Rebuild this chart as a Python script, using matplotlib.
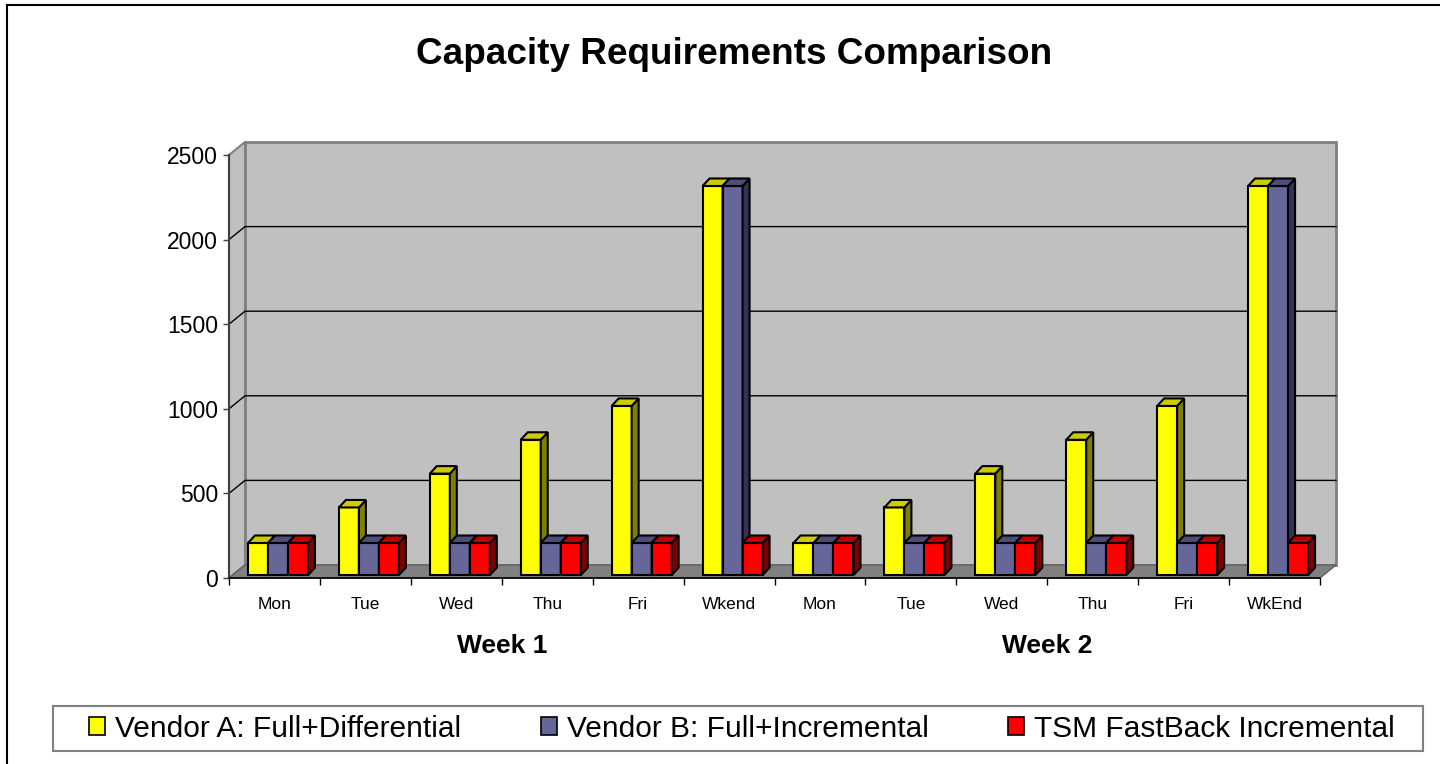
import matplotlib.pyplot as plt
from matplotlib.patches import Patch, Polygon, Rectangle
from matplotlib.lines import Line2D
import numpy as np

plt.rcParams['font.family'] = ['Liberation Sans', 'DejaVu Sans']

# data
days = ["Mon", "Tue", "Wed", "Thu", "Fri", "Wkend", "Mon", "Tue", "Wed", "Thu", "Fri", "WkEnd"]
weeks = ["Week 1", "Week 2"]
vendor_a = [190, 400, 600, 800, 1000, 2300, 190, 400, 600, 800, 1000, 2300]
vendor_b = [190, 190, 190, 190, 190, 2300, 190, 190, 190, 190, 190, 2300]
tsm = [190, 190, 190, 190, 190, 190, 190, 190, 190, 190, 190, 190]
series_names = ["Vendor A: Full+Differential", "Vendor B: Full+Incremental", "TSM FastBack Incremental"]

# front, top, side colours per series
face_colors = ["#FFFF00", "#666699", "#FF0000"]
top_colors = ["#CCCC00", "#4D4D77", "#C00000"]
side_colors = ["#808000", "#333355", "#800000"]

W, H = 1440, 764
fig = plt.figure(figsize=(W / 100, H / 100), dpi=100)
fig.patch.set_facecolor("white")

# plot area in pixels: front axis x 229..1320, y 578 (0) .. 155 (2500)
x0, x1, y0, y1 = 229, 1320, 578, 155
ax = fig.add_axes([x0 / W, (H - y0) / H, (x1 - x0) / W, (y0 - y1) / H])
n = len(days)
ymax = 2500
ax.set_xlim(0, n)
ax.set_ylim(0, ymax)
ax.patch.set_visible(False)

px_x = (x1 - x0) / n
px_y = (y0 - y1) / ymax
# depth of the box (back wall offset) and of the bars, in data units
dxw, dyw = 16 / px_x, 13 / px_y
ddx, ddy = 7 / px_x, 7.5 / px_y
f = 0.22  # bars front plane position inside the depth

# walls and floor
ax.add_patch(Polygon([(0, 0), (dxw, dyw), (dxw, ymax + dyw), (0, ymax)],
                     closed=True, fc="#C0C0C0", ec="#808080", lw=1.5, clip_on=False, zorder=0))
ax.add_patch(Polygon([(dxw, dyw), (n + dxw, dyw), (n + dxw, ymax + dyw), (dxw, ymax + dyw)],
                     closed=True, fc="#C0C0C0", ec="#808080", lw=2, clip_on=False, zorder=0))
ax.add_patch(Polygon([(0, 0), (n, 0), (n + dxw, dyw), (dxw, dyw)],
                     closed=True, fc="#808080", ec="#606060", lw=1, clip_on=False, zorder=0.5))
for v in range(500, ymax, 500):
    ax.plot([0, dxw, n + dxw], [v, v + dyw, v + dyw], color="black", lw=1, clip_on=False, zorder=0.6)

# bars
w = 0.22
lefts = np.arange(n) + 0.5 - 1.5 * w
all_series = [vendor_a, vendor_b, tsm]
for i in range(n):
    for s, vals in enumerate(all_series):
        xl = lefts[i] + s * w + f * dxw
        b = f * dyw
        v = vals[i]
        z = 3 + i * 0.1 + s * 0.01
        ax.bar(xl, v, width=w, bottom=b, align="edge", color=face_colors[s],
               edgecolor="black", linewidth=1.5, zorder=z, clip_on=False)
        side = [(xl + w, b), (xl + w + ddx, b + ddy), (xl + w + ddx, b + v + ddy), (xl + w, b + v)]
        top = [(xl, b + v), (xl + ddx, b + v + ddy), (xl + w + ddx, b + v + ddy), (xl + w, b + v)]
        ax.add_patch(Polygon(side, closed=True, fc=side_colors[s], ec="black", lw=1.5,
                             zorder=z, clip_on=False))
        ax.add_patch(Polygon(top, closed=True, fc=top_colors[s], ec="black", lw=1.5,
                             zorder=z, clip_on=False))

# axes
for sp in ["top", "right"]:
    ax.spines[sp].set_visible(False)
ax.spines["left"].set_color("#404040")
ax.spines["left"].set_linewidth(1.5)
ax.spines["bottom"].set_color("black")
ax.spines["bottom"].set_linewidth(1.2)
ax.set_yticks(range(0, ymax + 1, 500))
ax.tick_params(axis="y", length=4.5, width=1, color="#404040", pad=3.5, labelsize=16.5)
ax.set_xticks(range(n + 1))
ax.set_xticklabels([])
ax.set_xticks(np.arange(n) + 0.5, minor=True)
ax.set_xticklabels(days, minor=True)
ax.tick_params(axis="x", which="major", length=5, width=1, color="black")
ax.tick_params(axis="x", which="minor", length=0, pad=13.5, labelsize=12.5)

for k, wk in enumerate(weeks):
    ax.annotate(wk, xy=(3 + 6 * k, H - 646), xycoords=("data", "figure pixels"),
                ha="center", va="center", fontsize=19, fontweight="bold")

fig.text(734 / W, 1 - 55 / H, "Capacity Requirements Comparison", ha="center", va="center",
         fontsize=26.6, fontweight="bold")

# legend: frame drawn as its own box, entries centred inside
fig.add_artist(Rectangle((53 / W, (H - 751) / H), (1423 - 53) / W, 45 / H, transform=fig.transFigure,
                         fc="white", ec="#808080", lw=1.5))
handles = [Patch(facecolor=c, edgecolor="black", linewidth=1.2) for c in face_colors]
leg = fig.legend(handles, series_names, loc="center", ncol=3,
                 bbox_to_anchor=(742 / W, 1 - 729 / H),
                 frameon=False, borderaxespad=0, borderpad=0,
                 handlelength=0.55, handleheight=0.55, handletextpad=0.33, columnspacing=2.65,
                 fontsize=21.5)

# outer chart border (top and left visible)
fig.add_artist(Line2D([7 / W, 1], [1 - 5 / H, 1 - 5 / H], transform=fig.transFigure, color="black", lw=1.5))
fig.add_artist(Line2D([7 / W, 7 / W], [0, 1 - 5 / H], transform=fig.transFigure, color="black", lw=1.5))

fig.savefig("out.png", dpi=100)
